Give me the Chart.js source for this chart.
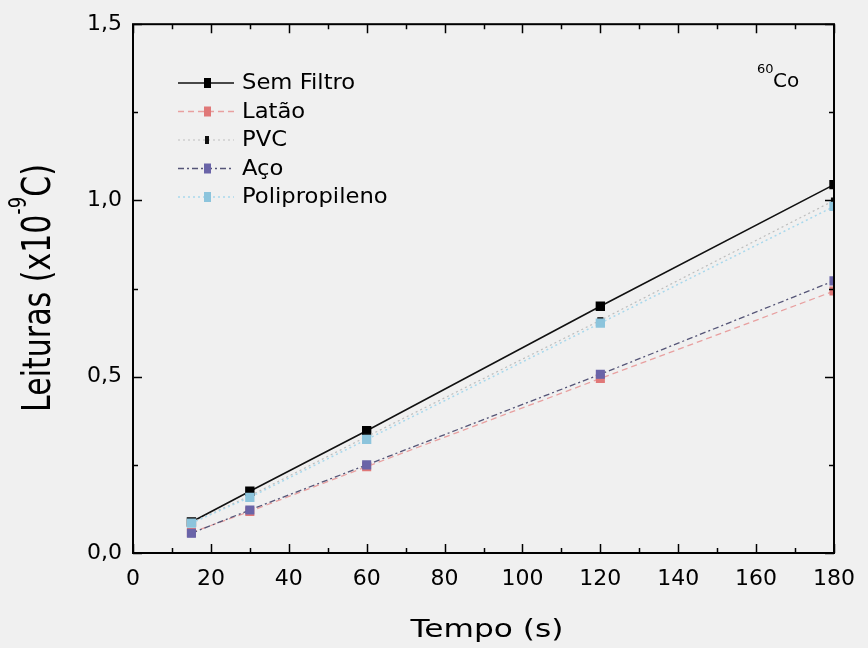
<!DOCTYPE html>
<html>
<head>
<meta charset="utf-8">
<script src="https://cdn.jsdelivr.net/npm/chart.js@4/dist/chart.umd.min.js"></script>
<style>
  html, body { margin: 0; padding: 0; background: #f0f0f0; }
  #wrap { width: 868px; height: 648px; }
</style>
</head>
<body>
<div id="wrap"><canvas id="myChart" width="868" height="648"></canvas></div>
<script>
const tempos = [15, 30, 60, 120, 180];
const semFiltro = [0.088, 0.175, 0.347, 0.70, 1.045];
const latao = [0.058, 0.118, 0.245, 0.495, 0.743];
const pvc = [0.086, 0.162, 0.33, 0.66, 1.0];
const aco = [0.056, 0.122, 0.25, 0.507, 0.772];
const polipropileno = [0.085, 0.158, 0.322, 0.652, 0.983];

const xTicks = [0, 20, 40, 60, 80, 100, 120, 140, 160, 180];
const yTicks = [0, 0.5, 1.0, 1.5];

const font = "DejaVu Sans";

function pts(ys) {
  return tempos.map((t, i) => ({ x: t, y: ys[i] }));
}

const series = [
  { label: "Sem Filtro", data: semFiltro, line: "#111111", point: "#000000", dash: [], width: 1.6, r: 5.5 },
  { label: "Latão", data: latao, line: "#e8a0a0", point: "#e07878", dash: [6, 4], width: 1.3, r: 5.5 },
  { label: "PVC", data: pvc, line: "#bdbdbd", point: "#111111", dash: [2, 3], width: 1.2, r: 3.5 },
  { label: "Aço", data: aco, line: "#555577", point: "#6a64a8", dash: [6, 3, 2, 3], width: 1.3, r: 5.5 },
  { label: "Polipropileno", data: polipropileno, line: "#a8d8ec", point: "#8cc4dc", dash: [2, 3], width: 1.5, r: 5.5 }
];

// frame, inward ticks, legend, titles and 60Co label
const decor = {
  id: "decor",
  afterDraw(chart) {
    const c = chart.ctx;
    const a = chart.chartArea;
    const xs = chart.scales.x, ys = chart.scales.y;
    c.save();
    c.strokeStyle = "#000";
    c.lineWidth = 2;
    c.strokeRect(a.left, a.top, a.right - a.left, a.bottom - a.top);
    c.lineWidth = 1.5;
    for (let v = 0; v <= 180; v += 10) {
      const px = Math.round(xs.getPixelForValue(v)) + 0.5;
      const len = v % 20 === 0 ? 9 : 5;
      c.beginPath();
      c.moveTo(px, a.bottom); c.lineTo(px, a.bottom - len);
      c.moveTo(px, a.top); c.lineTo(px, a.top + len);
      c.stroke();
    }
    for (let v = 0; v <= 1.5001; v += 0.25) {
      const py = Math.round(ys.getPixelForValue(v)) + 0.5;
      const len = Math.abs(v * 2 - Math.round(v * 2)) < 0.01 ? 9 : 5;
      c.beginPath();
      c.moveTo(a.left, py); c.lineTo(a.left + len, py);
      c.moveTo(a.right, py); c.lineTo(a.right - len, py);
      c.stroke();
    }

    // legend
    c.textBaseline = "middle";
    series.forEach((s, i) => {
      const y = 83 + i * 28.5;
      c.strokeStyle = s.line;
      c.lineWidth = s.width;
      c.setLineDash(s.dash);
      c.beginPath();
      c.moveTo(178, y); c.lineTo(234, y);
      c.stroke();
      c.setLineDash([]);
      c.fillStyle = s.point;
      if (s.r > 4) c.fillRect(204, y - 5, 7, 10);
      else c.fillRect(205, y - 4, 4, 8);
      c.save();
      c.translate(242, y + 1);
      c.scale(1.08, 1);
      c.font = "21px '" + font + "'";
      c.fillStyle = "#000";
      c.fillText(s.label, 0, 0);
      c.restore();
    });

    // 60Co
    c.fillStyle = "#000";
    c.textBaseline = "alphabetic";
    c.font = "13px '" + font + "'";
    c.fillText("60", 757, 73);
    c.font = "20px '" + font + "'";
    c.fillText("Co", 773, 87);

    // x title
    c.save();
    c.translate(487, 637);
    c.scale(1.25, 1);
    c.font = "25px '" + font + "'";
    c.textAlign = "center";
    c.fillText("Tempo (s)", 0, 0);
    c.restore();

    // y title with superscript
    c.save();
    c.translate(50, 288);
    c.scale(1.33, 1);
    c.rotate(-Math.PI / 2);
    const big = "30px '" + font + "'", small = "18px '" + font + "'";
    c.font = big;
    const w1 = c.measureText("Leituras (x10").width;
    const w3 = c.measureText("C)").width;
    c.font = small;
    const w2 = c.measureText("-9").width;
    let x0 = -(w1 + w2 + w3) / 2;
    c.font = big;
    c.fillText("Leituras (x10", x0, 0);
    c.font = small;
    c.fillText("-9", x0 + w1, -18);
    c.font = big;
    c.fillText("C)", x0 + w1 + w2, 0);
    c.restore();

    c.restore();
  }
};

new Chart(document.getElementById("myChart").getContext("2d"), {
  type: "line",
  data: {
    datasets: series.map(s => ({
      label: s.label,
      data: pts(s.data),
      borderColor: s.line,
      borderWidth: s.width,
      borderDash: s.dash,
      backgroundColor: s.point,
      pointBackgroundColor: s.point,
      pointBorderColor: s.point,
      pointStyle: "rect",
      pointRadius: s.r,
      fill: false,
      tension: 0
    })).reverse()
  },
  options: {
    responsive: false,
    animation: false,
    layout: { padding: { top: 22, right: 30, left: 0, bottom: 0 } },
    plugins: { legend: { display: false }, tooltip: { enabled: false } },
    scales: {
      x: {
        type: "linear",
        min: 0, max: 180,
        afterBuildTicks: s => { s.ticks = xTicks.map(v => ({ value: v })); },
        afterFit: s => { s.height = 95; },
        grid: { display: false, drawTicks: false },
        border: { display: false },
        ticks: { color: "#000", padding: 13, font: { family: font, size: 22 }, maxRotation: 0 }
      },
      y: {
        min: 0, max: 1.5,
        afterBuildTicks: s => { s.ticks = yTicks.map(v => ({ value: v })); },
        afterFit: s => { s.width = 133; },
        grid: { display: false, drawTicks: false },
        border: { display: false },
        ticks: {
          color: "#000", padding: 11, font: { family: font, size: 22 },
          callback: v => v.toFixed(1).replace(".", ",")
        }
      }
    }
  },
  plugins: [decor]
});
</script>
</body>
</html>
